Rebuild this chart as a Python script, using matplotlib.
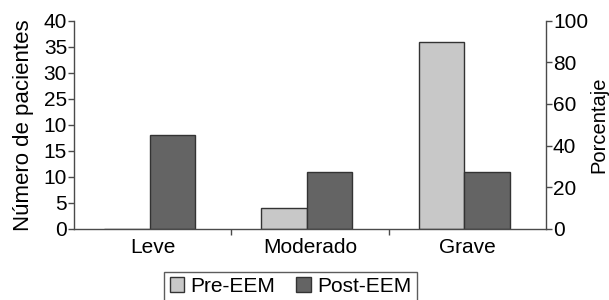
import matplotlib.pyplot as plt
import numpy as np

plt.rcParams['font.family'] = ['Liberation Sans', 'DejaVu Sans']

# data
categories = ["Leve", "Moderado", "Grave"]
pre_eem = [0, 4, 36]
post_eem = [18, 11, 11]
left_ticks = [0, 5, 10, 15, 20, 25, 30, 35, 40]
left_ticklabels = ["0", "5", "10", "15", "10", "25", "30", "35", "40"]
right_ticks = [0, 20, 40, 60, 80, 100]

fontsize = 15
spine_c = "#4a4a4a"

fig = plt.figure(figsize=(6.09, 3.0), dpi=100)
ax = fig.add_axes([0.1215, 0.2377, 0.775, 0.693])

x = np.arange(len(categories))
w = 0.29
off = -0.02
ax.bar(x + off - w/2, pre_eem, w, color="#c8c8c8", edgecolor="#333333", lw=1, label="Pre-EEM")
ax.bar(x + off + w/2, post_eem, w, color="#646464", edgecolor="#333333", lw=1, label="Post-EEM")

ax.set_xlim(-0.5, 2.5)
ax.set_ylim(0, 40)
ax.set_yticks(left_ticks)
ax.set_yticklabels(left_ticklabels)
ax.set_xticks(x)
ax.set_xticklabels(categories)
ax.set_xticks([0.5, 1.5], minor=True)
ax.tick_params(axis='x', which='major', length=0, labelsize=fontsize, pad=7)
ax.tick_params(axis='x', which='minor', length=4, width=1, color=spine_c)
ax.tick_params(axis='y', labelsize=fontsize, length=4, width=1, color=spine_c, pad=1)
ax.set_ylabel("Número de pacientes", fontsize=16, labelpad=7)
ax.spines['top'].set_visible(False)
ax.spines['right'].set_visible(False)
for s in ['left', 'bottom']:
    ax.spines[s].set_color(spine_c)
    ax.spines[s].set_linewidth(1)

ax2 = ax.twinx()
ax2.set_ylim(0, 100)
ax2.set_yticks(right_ticks)
ax2.tick_params(axis='y', labelsize=fontsize, length=4, width=1, color=spine_c, pad=1)
ax2.set_ylabel("Porcentaje", fontsize=14.5, labelpad=1)
for s in ['top', 'left', 'bottom']:
    ax2.spines[s].set_visible(False)
ax2.spines['right'].set_color(spine_c)
ax2.spines['right'].set_linewidth(1)

handles, labels = ax.get_legend_handles_labels()
leg = fig.legend(handles, labels, loc='upper center', bbox_to_anchor=(0.477, 0.095),
                 ncol=2, fontsize=fontsize, frameon=True, fancybox=False,
                 handlelength=0.7, handleheight=0.7, handletextpad=0.3,
                 columnspacing=1.0, borderpad=0.25, borderaxespad=0)
leg.get_frame().set_edgecolor("#333333")
leg.get_frame().set_linewidth(1)

fig.savefig("out.png", dpi=100)
